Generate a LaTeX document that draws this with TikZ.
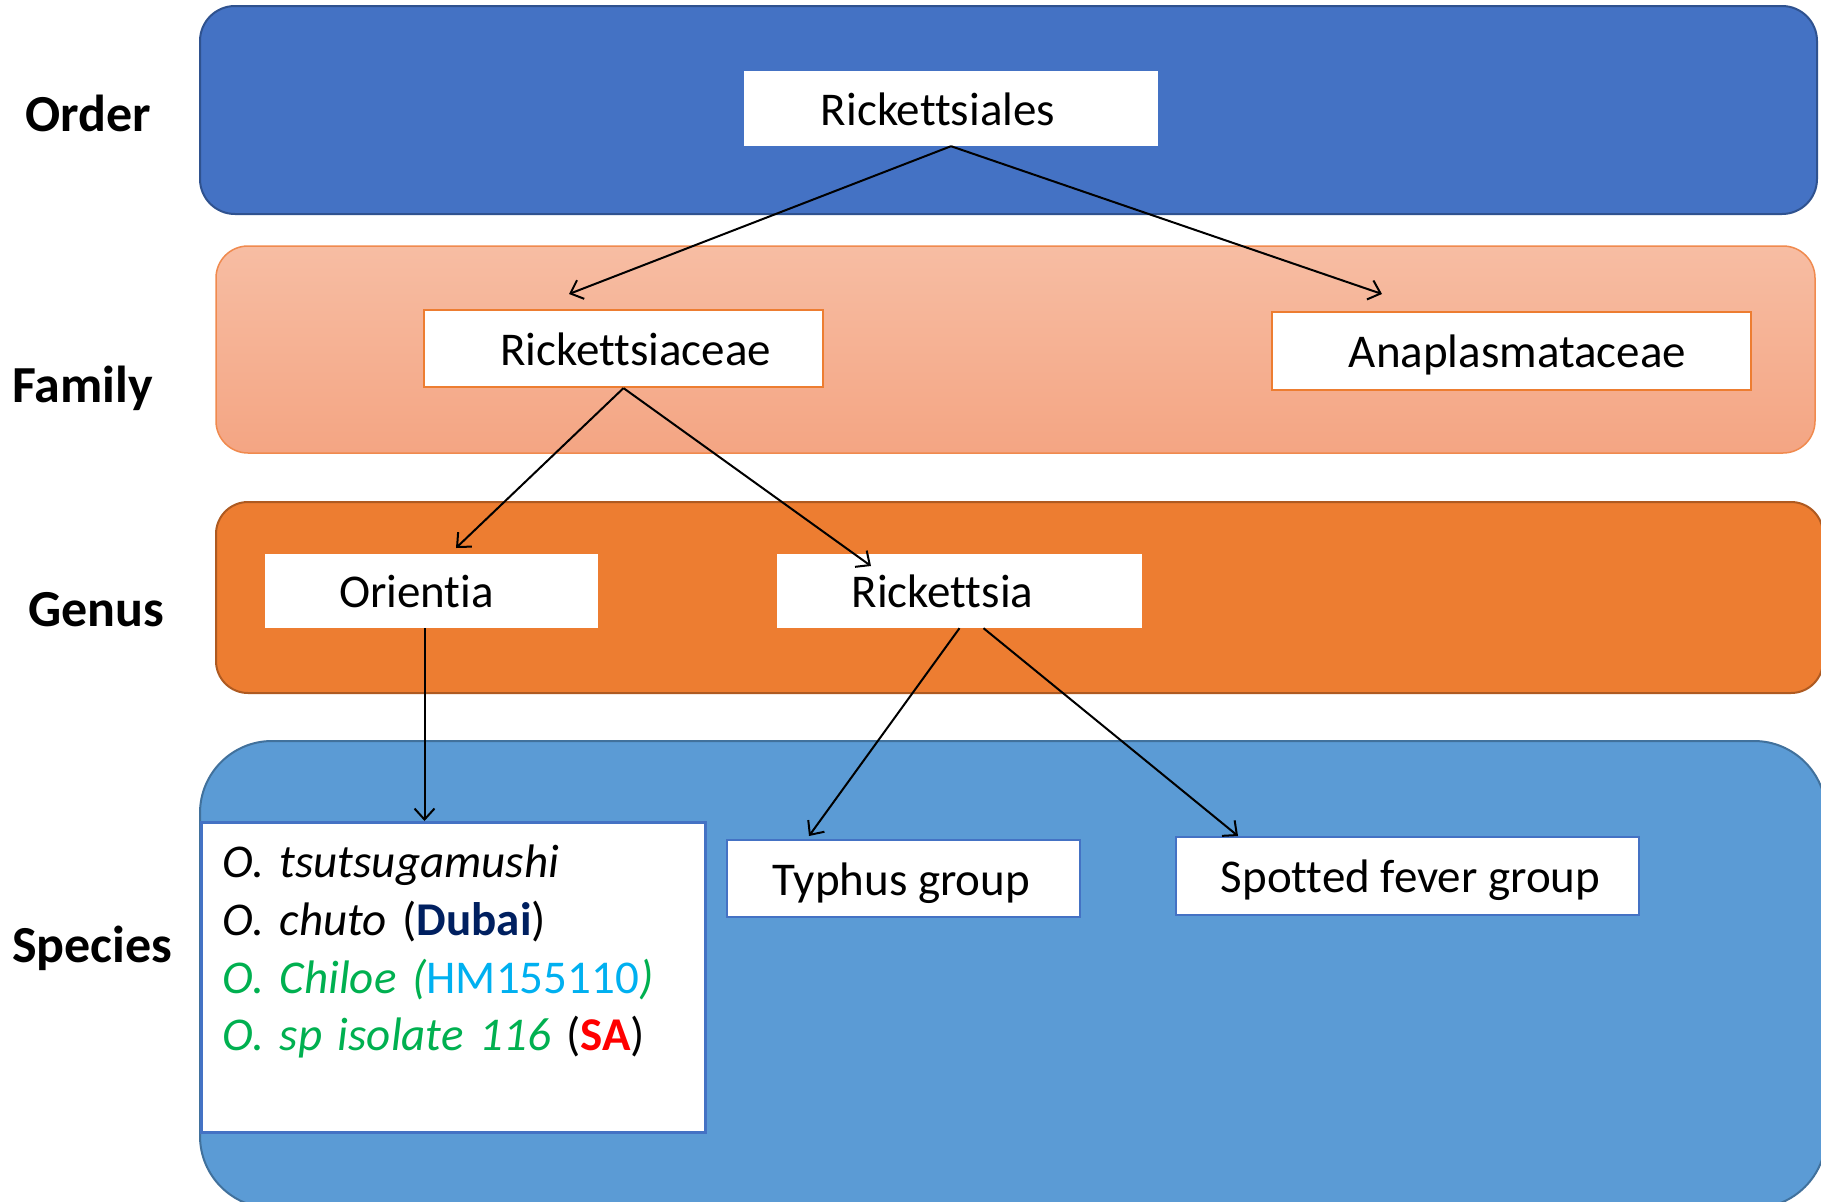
\documentclass[tikz,border=0pt]{standalone}
\usepackage{fontspec}
\setmainfont{Carlito}[Ligatures=CommonOff]
\usetikzlibrary{arrows.meta,calc}
\definecolor{orderfill}{HTML}{4472C4}
\definecolor{orderborder}{HTML}{2F528F}
\definecolor{famtop}{RGB}{247,189,163}
\definecolor{fambot}{RGB}{244,165,131}
\definecolor{famborder}{HTML}{F08A4E}
\definecolor{genfill}{HTML}{ED7D31}
\definecolor{genborder}{HTML}{AE5A21}
\definecolor{specfill}{HTML}{5B9BD5}
\definecolor{specborder}{HTML}{41719C}
\definecolor{boxblue}{HTML}{4472C4}
\definecolor{boxorange}{HTML}{ED7D31}
\definecolor{dubai}{HTML}{002060}
\definecolor{sgreen}{HTML}{00B050}
\definecolor{sblue}{HTML}{00B0F0}
\definecolor{sred}{HTML}{FF0000}
\begin{document}
\begin{tikzpicture}[x=1pt,y=-1pt,
  bandlabel/.style={font=\fontsize{52pt}{60pt}\selectfont\bfseries, anchor=base west, inner sep=0pt},
  whitebox/.style={fill=white, inner sep=0pt, font=\fontsize{47pt}{58pt}\selectfont, text height=33pt, text depth=0pt},
  ordbox/.style={whitebox},
  fambox/.style={whitebox, draw=boxorange, line width=2.2pt},
  genbox/.style={whitebox},
  spbox/.style={whitebox, draw=boxblue, line width=2.5pt},
  arr/.style={-{Straight Barb[length=11pt,width=20pt]}, line width=2pt, black}
]
\useasboundingbox (0,0) rectangle (1821,1202);
\clip (0,0) rectangle (1821,1202);

% bands
\fill[white] (0,0) rectangle (1821,1202);
\draw[fill=orderfill, draw=orderborder, line width=2pt, rounded corners=35pt] (200,6) rectangle (1817,214);
\shade[top color=famtop, bottom color=fambot, draw=famborder, line width=1.5pt, rounded corners=32pt] (216,246) rectangle (1815,453);
\draw[fill=genfill, draw=genborder, line width=2pt, rounded corners=32pt] (216,502) rectangle (1823,693);
\draw[fill=specfill, draw=specborder, line width=2pt, rounded corners=72pt] (200,741) rectangle (1826,1208);

% row labels
\node[bandlabel] (lorder) at (25,131) {Order};
\node[bandlabel] (lfamily) at (12,402) {Family};
\node[bandlabel] (lgenus) at (28,626) {Genus};
\node[bandlabel] (lspecies) at (12,962) {Species};

% boxes
\node[ordbox, minimum width=414pt, minimum height=75pt] (rales) at (951,108.5) {\hspace*{-26pt}Rickettsiales};
\node[fambox, minimum width=399pt, minimum height=77pt] (raceae) at (623.5,348.5) {\hspace*{24pt}Rickettsiaceae};
\node[fambox, minimum width=479pt, minimum height=78pt] (anapl) at (1511.5,351) {\hspace*{12pt}Anaplasmataceae};
\node[genbox, minimum width=333pt, minimum height=74pt] (orientia) at (431.5,591) {\hspace*{-30pt}Orientia};
\node[genbox, minimum width=365pt, minimum height=74pt] (rickettsia) at (959.5,591) {\hspace*{-34pt}Rickettsia};
\node[spbox, minimum width=353pt, minimum height=77pt] (typhus) at (903.5,878.5) {\hspace*{-4pt}Typhus group};
\node[spbox, minimum width=463pt, minimum height=78pt] (spotted) at (1407.5,876) {\hspace*{6pt}Spotted fever group};
\node[spbox, anchor=north west, text width=462pt, align=left, inner xsep=21pt, inner ysep=21pt,
      text height=34.5pt, text depth=233.5pt, font=\fontsize{47pt}{57.7pt}\selectfont] (spec) at (200,821)
  {\textit{O. tsutsugamushi}\\
   \textit{O. chuto} (\textbf{\color{dubai}Dubai})\\
   {\color{sgreen}\textit{O. Chiloe (}{\color{sblue}HM155110}\textit{)}}\\
   {\color{sgreen}\textit{O. sp isolate 116}} (\textbf{\color{sred}SA})};

% connector end points
\coordinate (e1) at (569,294);
\coordinate (e2) at (1382,294);
\coordinate (e3) at (456,548);
\coordinate (e4) at (871,566);
\coordinate (o1) at ([xshift=-7pt]orientia.south);
\coordinate (r1) at ([xshift=24pt]rickettsia.south);
\coordinate (e5) at (809,836);
\coordinate (e6) at (1238,836);

% connectors
\draw[arr] (rales.south) -- (e1);
\draw[arr] (rales.south) -- (e2);
\draw[arr] (raceae.south) -- (e3);
\draw[arr] (raceae.south) -- (e4);
\draw[arr] (o1) -- (o1 |- spec.north);
\draw[arr] (rickettsia.south) -- (e5);
\draw[arr] (r1) -- (e6);
\end{tikzpicture}
\end{document}
